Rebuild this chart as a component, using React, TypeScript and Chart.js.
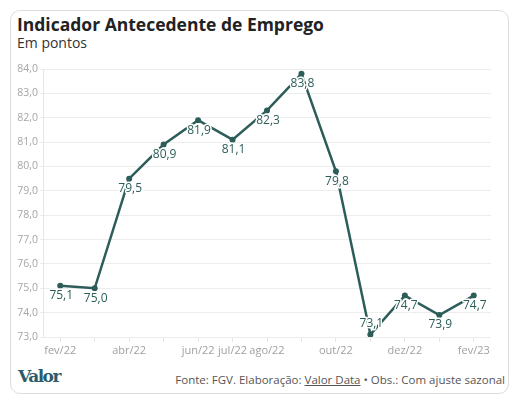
import React, { useEffect, useRef } from "react";
import { Chart, registerables } from "chart.js";

Chart.register(...registerables);

const categories = ["fev/22", "mar/22", "abr/22", "mai/22", "jun/22", "jul/22", "ago/22", "set/22", "out/22", "nov/22", "dez/22", "jan/23", "fev/23"];
const shownLabels = ["fev/22", "abr/22", "jun/22", "jul/22", "ago/22", "out/22", "dez/22", "fev/23"];
const values = [75.1, 75.0, 79.5, 80.9, 81.9, 81.1, 82.3, 83.8, 79.8, 73.1, 74.7, 73.9, 74.7];
const yMin = 73;
const yMax = 84;

const LINE = "#2c5d59";
const FONT = "'Open Sans', 'Noto Sans', sans-serif";

const fmt = (v: number) => v.toFixed(1).replace(".", ",");

const labelPlugin = {
  id: "pointLabels",
  afterDatasetsDraw(chart: any) {
    const ctx = chart.ctx;
    const meta = chart.getDatasetMeta(0);
    const area = chart.chartArea;
    ctx.save();
    ctx.font = `12px ${FONT}`;
    ctx.textAlign = "center";
    ctx.textBaseline = "middle";
    ctx.lineJoin = "round";
    meta.data.forEach((pt: any, i: number) => {
      const txt = fmt(values[i]);
      let y = pt.y + 10;
      if (y + 6 > area.bottom) y = pt.y - 11;
      const x = pt.x + 1;
      ctx.strokeStyle = "#ffffff";
      ctx.lineWidth = 3;
      ctx.strokeText(txt, x, y);
      ctx.fillStyle = LINE;
      ctx.fillText(txt, x, y);
    });
    ctx.restore();
  },
};

export default function App() {
  const ref = useRef<HTMLCanvasElement | null>(null);

  useEffect(() => {
    document.body.style.margin = "0";
    document.body.style.background = "#ffffff";
    if (!ref.current) return;
    const chart = new Chart(ref.current, {
      type: "line",
      data: {
        labels: categories,
        datasets: [
          {
            data: values,
            borderColor: LINE,
            backgroundColor: LINE,
            borderWidth: 2.5,
            pointRadius: 3,
            pointBackgroundColor: LINE,
            pointBorderWidth: 0,
            tension: 0,
          },
        ],
      },
      options: {
        animation: false,
        responsive: false,
        maintainAspectRatio: false,
        layout: { padding: { top: 13, right: 14, left: 0, bottom: 0 } },
        plugins: {
          legend: { display: false },
          tooltip: { enabled: false },
          title: { display: false },
        },
        scales: {
          x: {
            type: "category",
            offset: true,
            grid: {
              display: true,
              drawOnChartArea: false,
              drawTicks: true,
              tickLength: 5,
              color: "#e6e6e6",
              offset: false,
            },
            border: { display: false },
            ticks: {
              autoSkip: false,
              maxRotation: 0,
              padding: 2,
              color: "#a0a0a0",
              font: { family: FONT, size: 11 },
              callback: (_v: any, i: number) => (shownLabels.includes(categories[i]) ? categories[i] : ""),
            },
            afterFit: (s: any) => {
              s.height = 29;
            },
          },
          y: {
            min: yMin,
            max: yMax,
            grid: { color: "#ededed", tickLength: 3, lineWidth: 1 },
            border: { display: true, color: "#e6e6e6" },
            ticks: {
              stepSize: 1,
              padding: 2,
              color: "#a6a6a6",
              font: { family: FONT, size: 10.5 },
              callback: (v: any) => fmt(Number(v)),
            },
            afterFit: (s: any) => {
              s.width = 33;
            },
          },
        },
      },
      plugins: [labelPlugin],
    });
    return () => chart.destroy();
  }, []);

  return (
    <div style={{ position: "relative", width: 528, height: 406, background: "#fff" }}>
      <div
        style={{
          position: "absolute",
          left: 10,
          top: 10,
          width: 499,
          height: 384,
          border: "1px solid #dcdcdc",
          borderRadius: 10,
          boxSizing: "border-box",
        }}
      />
      <div
        style={{
          position: "absolute",
          left: 17,
          top: 12,
          fontFamily: FONT,
          fontWeight: 700,
          fontSize: 17.5,
          color: "#222",
          whiteSpace: "nowrap",
        }}
      >
        Indicador Antecedente de Emprego
      </div>
      <div
        style={{
          position: "absolute",
          left: 17,
          top: 33,
          fontFamily: FONT,
          fontSize: 14,
          color: "#333",
          whiteSpace: "nowrap",
        }}
      >
        Em pontos
      </div>
      <canvas ref={ref} width={495} height={310} style={{ position: "absolute", left: 10, top: 56 }} />
      <div
        style={{
          position: "absolute",
          left: 18,
          top: 366,
          fontFamily: "'DejaVu Serif', 'Liberation Serif', serif",
          fontWeight: 700,
          fontSize: 17,
          color: "#2d5b6b",
          letterSpacing: -1.5,
          whiteSpace: "nowrap",
        }}
      >
        Valor
      </div>
      <div
        style={{
          position: "absolute",
          right: 23,
          top: 372,
          fontFamily: FONT,
          fontSize: 11.5,
          color: "#555",
          whiteSpace: "nowrap",
        }}
      >
        Fonte: FGV. Elaboração: <span style={{ textDecoration: "underline" }}>Valor Data</span> • Obs.: Com ajuste sazonal
      </div>
    </div>
  );
}
